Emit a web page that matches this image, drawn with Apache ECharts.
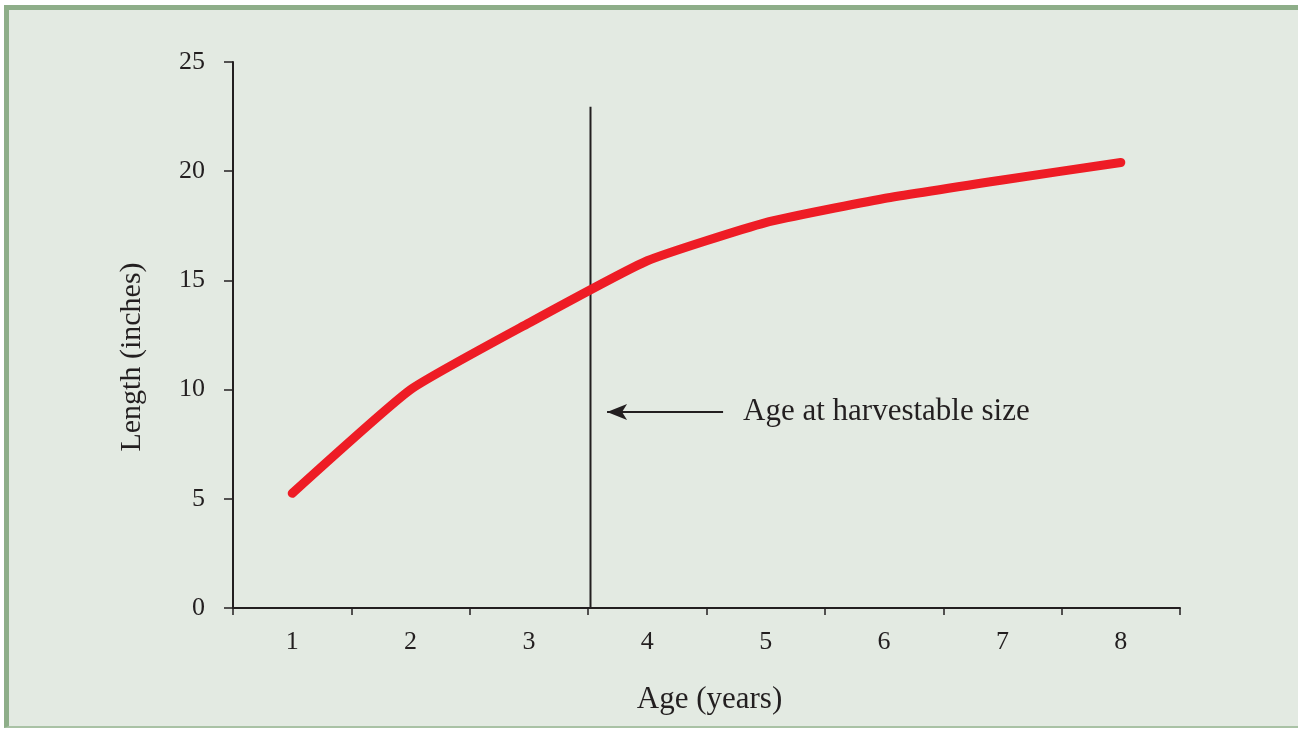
<!DOCTYPE html>
<html>
<head>
<meta charset="utf-8">
<script src="https://cdn.jsdelivr.net/npm/echarts@6/dist/echarts.min.js"></script>
<style>
  html, body { margin: 0; padding: 0; background: #ffffff; }
  #wrap { position: relative; width: 1298px; height: 730px; background: #ffffff; overflow: hidden; }
  #frame { position: absolute; left: 4px; top: 5px; width: 1294px; height: 723px; box-sizing: border-box;
           background: #e3eae2; border-left: 5px solid #8eae89; border-top: 5px solid #8eae89; border-bottom: 2px solid #a9c2a5; }
  #chart { position: absolute; left: 0; top: 0; width: 1298px; height: 730px; }
</style>
</head>
<body>
<div id="wrap">
  <div id="frame"></div>
  <div id="chart"></div>
</div>
<script>
// ---- data ----
const ageCategories = ['1', '2', '3', '4', '5', '6', '7', '8'];
const lengthInches = [5.25, 10.0, 13.05, 15.9, 17.65, 18.75, 19.6, 20.4];
const yTicks = { min: 0, max: 25, interval: 5 };
const harvestAge = 3.52;         // vertical marker between age 3 and 4
const harvestLineTop = 22.95;    // top of the vertical marker (inches)
const arrowFrom = [4.64, 8.97];  // [age, inches]
const arrowTo = [3.66, 8.97];
const annotationText = 'Age at harvestable size';
const xTitle = 'Age (years)';
const yTitle = 'Length (inches)';

const ink = '#231f20';
const serif = '"Liberation Serif", "DejaVu Serif", serif';

const chart = echarts.init(document.getElementById('chart'), null, { renderer: 'canvas' });
chart.setOption({
  backgroundColor: 'transparent',
  animation: false,
  grid: { left: 233, right: 118, top: 62, bottom: 122, containLabel: false },
  xAxis: [
    {
      type: 'category',
      data: ageCategories,
      boundaryGap: true,
      name: xTitle,
      nameLocation: 'middle',
      nameGap: 76,
      nameTextStyle: { fontFamily: serif, fontSize: 31, color: ink, padding: [0, 0, 0, 6] },
      axisLine: { show: true, lineStyle: { color: ink, width: 2 } },
      axisTick: { show: true, length: 7, alignWithLabel: false, lineStyle: { color: ink, width: 1.5 } },
      axisLabel: { margin: 21, fontFamily: serif, fontSize: 26, color: ink },
      splitLine: { show: false }
    },
    {
      type: 'value',
      min: 0.5,
      max: 8.5,
      show: false,
      position: 'bottom'
    }
  ],
  yAxis: {
    type: 'value',
    min: yTicks.min,
    max: yTicks.max,
    interval: yTicks.interval,
    name: yTitle,
    nameLocation: 'middle',
    nameGap: 86,
    nameRotate: 90,
    nameTextStyle: { fontFamily: serif, fontSize: 30, color: ink, padding: [0, 44, 0, 0] },
    axisLine: { show: true, lineStyle: { color: ink, width: 2 } },
    axisTick: { show: true, length: 9, lineStyle: { color: ink, width: 1.5 } },
    axisLabel: { margin: 28, fontFamily: serif, fontSize: 26, color: ink },
    splitLine: { show: false }
  },
  series: [
    {
      type: 'line',
      xAxisIndex: 0,
      data: lengthInches,
      smooth: 0.15,
      showSymbol: false,
      symbol: 'none',
      lineStyle: { color: '#ee1c25', width: 9, cap: 'round', join: 'round' },
      z: 3
    },
    {
      type: 'line',
      xAxisIndex: 1,
      data: [[harvestAge, 0], [harvestAge, harvestLineTop]],
      showSymbol: false,
      symbol: 'none',
      lineStyle: { color: ink, width: 2 },
      z: 2
    },
    {
      type: 'line',
      xAxisIndex: 1,
      data: [],
      markLine: {
        silent: true,
        symbol: ['none', 'arrow'],
        symbolSize: [12, 20],
        lineStyle: { color: ink, width: 2, type: 'solid' },
        label: {
          show: true,
          position: 'start',
          formatter: annotationText,
          fontFamily: serif,
          fontSize: 31,
          color: ink,
          distance: 20
        },
        data: [[{ coord: arrowFrom }, { coord: arrowTo }]]
      }
    }
  ]
});
</script>
</body>
</html>
